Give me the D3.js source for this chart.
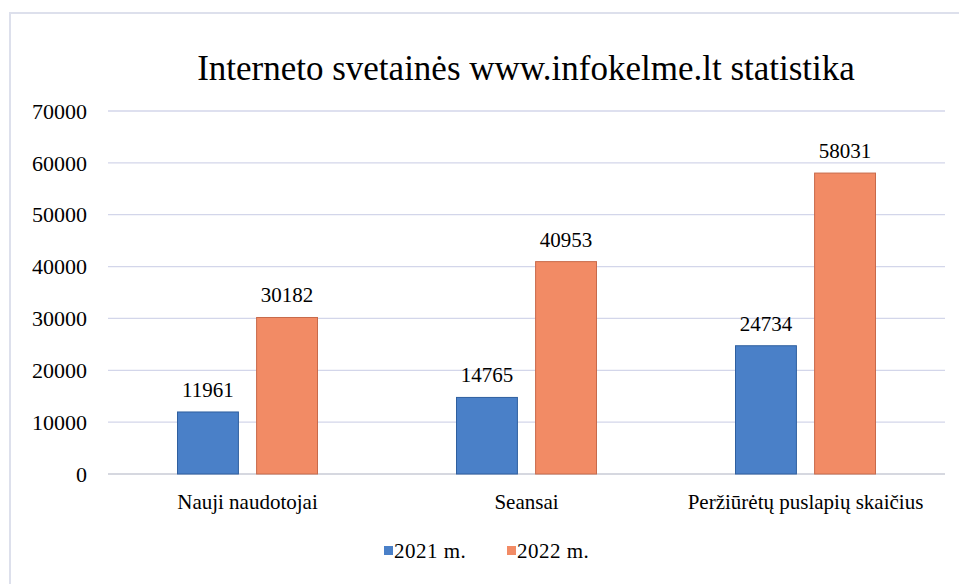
<!DOCTYPE html>
<meta charset="utf-8">
<body style="margin:0; font-family: 'Liberation Serif';">
<script src="https://cdn.jsdelivr.net/npm/d3@7"></script>
<script>

// data
var categories = ["Nauji naudotojai", "Seansai", "Peržiūrėtų puslapių skaičius"];
var series = ["2021 m.", "2022 m."];
var values2021 = [11961, 14765, 24734];
var values2022 = [30182, 40953, 58031];
var yTicks = [0, 10000, 20000, 30000, 40000, 50000, 60000, 70000];
var colors = ["#4a80c8", "#f28b65"];
var strokes = ["#2f5f9f", "#c86a4a"];

var W = 959, H = 584;
var margin = {top: 111, right: 14, bottom: 110, left: 108},
    width = W - margin.left - margin.right,
    height = H - margin.top - margin.bottom;

var svg = d3.select("body").append("svg")
    .attr("width", W)
    .attr("height", H)
    .style("font-family", "'Liberation Serif'");

// helper: text styling
function serif(sel, size) {
  return sel.style("font-family", "'Liberation Serif'")
      .style("font-size", size + "px");
}

// faint frame of the chart area
svg.append("path")
    .attr("d", "M10," + H + "V13H" + W)
    .attr("fill", "none")
    .attr("stroke", "#dde0ec")
    .attr("stroke-width", 2);

var g = svg.append("g")
    .attr("transform", "translate(" + margin.left + "," + margin.top + ")");

var x = d3.scaleBand().domain(categories).range([0, width]);
var x1 = d3.scaleBand().domain(series)
    .range([x.bandwidth() / 2 - 70, x.bandwidth() / 2 + 70])
    .paddingInner(0.23);
var y = d3.scaleLinear().domain([0, 70000]).range([height, 0]);

// gridlines
g.selectAll(".grid")
    .data(yTicks)
  .enter().append("line")
    .attr("class", "grid")
    .attr("x1", 0)
    .attr("x2", width)
    .attr("y1", function(d) { return y(d); })
    .attr("y2", function(d) { return y(d); })
    .attr("stroke", function(d) { return d === 0 ? "#c9cbd6" : "#d3d6ea"; })
    .attr("stroke-width", 1.3);

// y labels
serif(g.selectAll(".ylab")
    .data(yTicks)
  .enter().append("text")
    .attr("class", "ylab")
    .attr("x", -21)
    .attr("y", function(d) { return y(d); })
    .attr("dy", "0.35em")
    .attr("text-anchor", "end"), 22)
    .text(function(d) { return d; });

var data = categories.map(function(c, i) {
  return {cat: c, vals: [values2021[i], values2022[i]]};
});

var groups = g.selectAll(".grp")
    .data(data)
  .enter().append("g")
    .attr("class", "grp")
    .attr("transform", function(d) { return "translate(" + x(d.cat) + ",0)"; });

groups.selectAll("rect")
    .data(function(d) { return d.vals.map(function(v, j) { return {s: series[j], v: v, j: j}; }); })
  .enter().append("rect")
    .attr("x", function(d) { return x1(d.s); })
    .attr("y", function(d) { return y(d.v); })
    .attr("width", x1.bandwidth())
    .attr("height", function(d) { return height - y(d.v); })
    .attr("fill", function(d) { return colors[d.j]; })
    .attr("stroke", function(d) { return strokes[d.j]; })
    .attr("stroke-width", 1);

serif(groups.selectAll(".vlab")
    .data(function(d) { return d.vals.map(function(v, j) { return {s: series[j], v: v}; }); })
  .enter().append("text")
    .attr("class", "vlab")
    .attr("x", function(d) { return x1(d.s) + x1.bandwidth() / 2; })
    .attr("y", function(d) { return y(d.v) - 15; })
    .attr("text-anchor", "middle"), 21)
    .text(function(d) { return d.v; });

// category labels
serif(g.selectAll(".xlab")
    .data(categories)
  .enter().append("text")
    .attr("class", "xlab")
    .attr("x", function(d) { return x(d) + x.bandwidth() / 2; })
    .attr("y", height + 35)
    .attr("text-anchor", "middle"), 21)
    .text(function(d) { return d; });

// title
serif(svg.append("text")
    .attr("x", 526)
    .attr("y", 80)
    .attr("text-anchor", "middle"), 35)
    .text("Interneto svetainės www.infokelme.lt statistika");

// legend
var legend = svg.append("g").attr("transform", "translate(384,558)");
var lx = [0, 123];
series.forEach(function(s, i) {
  legend.append("rect")
      .attr("x", lx[i])
      .attr("y", -12)
      .attr("width", 9)
      .attr("height", 9)
      .attr("fill", colors[i]);
  serif(legend.append("text")
      .attr("x", lx[i] + 10)
      .attr("y", 0), 21)
      .style("letter-spacing", "0.5px")
      .text(s);
});

</script>
</body>
